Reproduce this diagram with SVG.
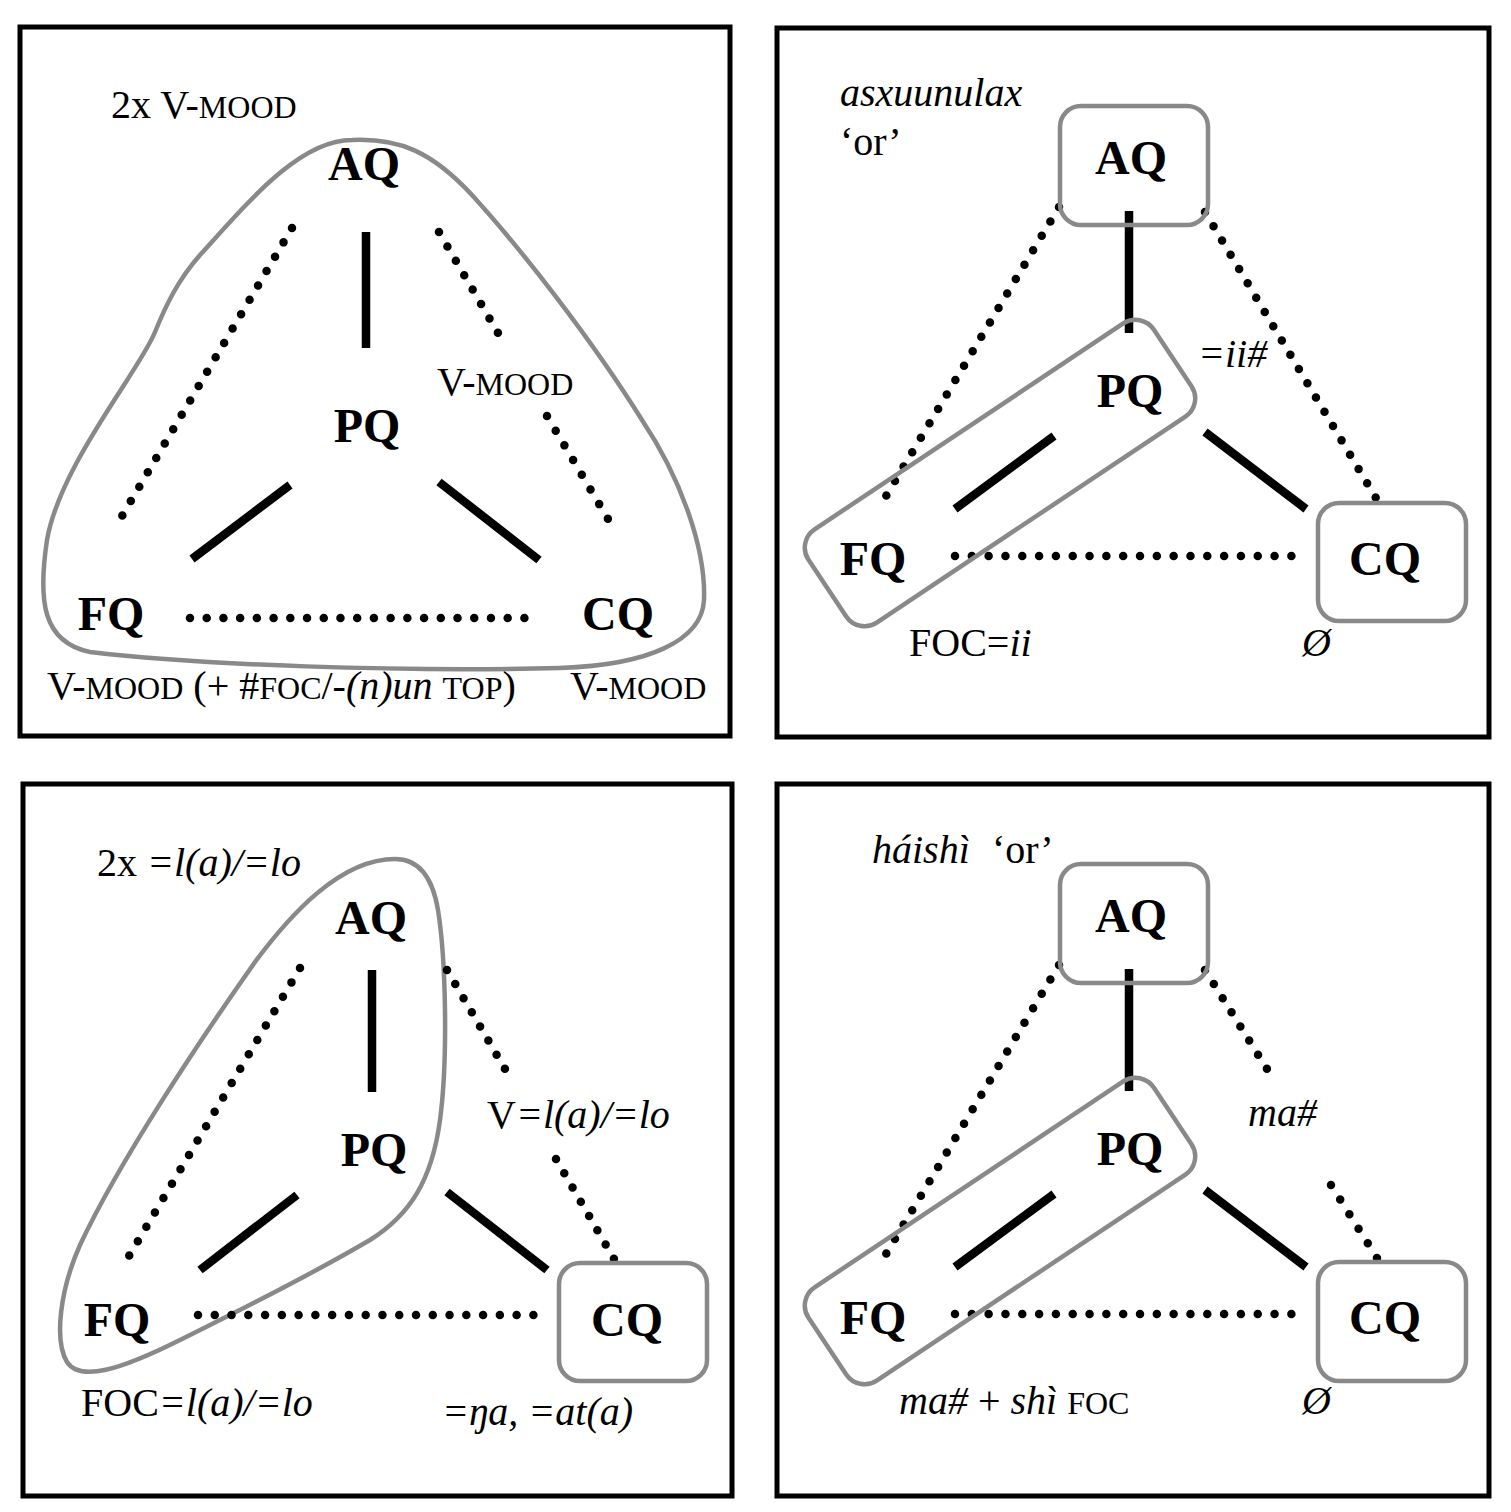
<svg xmlns="http://www.w3.org/2000/svg" width="1511" height="1512" viewBox="0 0 1511 1512">
<style>
text{font-family:"Liberation Serif","Times New Roman",serif;font-size:40px;fill:#000}
.n{font-weight:bold;font-size:48px;text-anchor:middle}
.i{font-style:italic}
.sc{font-size:32px}
.frame{fill:none;stroke:#000;stroke-width:5}
.g{fill:none;stroke:#898989;stroke-width:4.5}
.s{stroke:#000;stroke-width:8.5;fill:none}
.d{stroke:#000;stroke-width:8.5;stroke-linecap:round;stroke-dasharray:0 16.7;fill:none}
</style>
<rect width="1511" height="1512" fill="#fff"/>

<!-- Panel 1 -->
<g id="panel1">
<rect class="frame" x="20" y="27" width="710" height="709"/>
<path id="blob1" class="g" d="M352,140 C300,140 250,200 200,255 C178,280 166,305 155,332 C140,370 60,465 47,540 C38,600 42,642 90,652 C200,665 400,672 560,668 C650,665 702,640 704,600 C706,550 682,480 642,420 C592,340 522,250 472,195 C432,152 400,138 352,140 Z"/>
<g id="conn1">
<line class="s" x1="366" y1="232" x2="366" y2="348"/>
<line class="s" x1="290" y1="485" x2="192" y2="559"/>
<line class="s" x1="439" y1="482" x2="539" y2="560"/>
<line class="d" style="stroke-dasharray:0 16.69" x1="292" y1="228" x2="122" y2="516"/>
<line class="d" style="stroke-dasharray:0 16.68" x1="439" y1="232" x2="498" y2="333"/>
<line class="d" style="stroke-dasharray:0 17.07" x1="547" y1="416" x2="608" y2="519"/>
<line class="d" style="stroke-dasharray:0 16.72" x1="190" y1="618" x2="525" y2="618"/>
</g>
<g id="p1-AQ"><text class="n" x="364" y="180">AQ</text></g>
<g id="p1-PQ"><text class="n" x="367" y="442">PQ</text></g>
<g id="p1-FQ"><text class="n" x="111" y="630">FQ</text></g>
<g id="p1-CQ"><text class="n" x="618" y="630">CQ</text></g>
<text x="111" y="118">2x V-<tspan class="sc">MOOD</tspan></text>
<text x="437" y="395">V-<tspan class="sc">MOOD</tspan></text>
<text x="47" y="699">V-<tspan class="sc">MOOD</tspan> (+ #<tspan class="sc">FOC</tspan>/-<tspan class="i">(n)un</tspan> <tspan class="sc">TOP</tspan>)</text>
<text x="570" y="699">V-<tspan class="sc">MOOD</tspan></text>
</g>

<!-- Panel 2 -->
<g id="panel2">
<rect class="frame" x="777" y="28" width="712" height="709"/>
<g id="conn2">
<line class="s" x1="1129" y1="211" x2="1129" y2="333"/>
<line class="s" x1="955" y1="509" x2="1054" y2="436"/>
<line class="s" x1="1205" y1="432" x2="1306" y2="509"/>
<line class="d" style="stroke-dasharray:0 16.81" x1="1059" y1="207" x2="886" y2="496"/>
<line class="d" style="stroke-dasharray:0 16.63" x1="1205" y1="212" x2="1376" y2="498"/>
<line class="d" style="stroke-dasharray:0 16.82" x1="955" y1="556" x2="1292" y2="556"/>
</g>
<g id="p2-AQ"><rect class="g" x="1060" y="106" width="148" height="119" rx="21"/><text class="n" x="1131" y="174">AQ</text></g>
<g id="p2-FQPQ"><rect class="g" x="-207.5" y="-56" width="415" height="112" rx="22" transform="translate(1000,473) rotate(-33.7)"/></g>
<g id="p2-PQ"><text class="n" x="1130" y="407">PQ</text></g>
<g id="p2-FQ"><text class="n" x="873" y="575">FQ</text></g>
<g id="p2-CQ"><rect class="g" x="1318" y="503" width="148" height="118" rx="21"/><text class="n" x="1385" y="575">CQ</text></g>
<text class="i" x="840" y="106">asxuunulax</text>
<text x="840" y="155">‘or’</text>
<text class="i" x="1198" y="367">=ii#</text>
<text x="909" y="656">FOC=<tspan class="i">ii</tspan></text>
<text class="i" x="1302" y="656">Ø</text>
</g>

<!-- Panel 3 -->
<g id="panel3">
<rect class="frame" x="23" y="784" width="709" height="712"/>
<path id="blob3" class="g" d="M395,859 C420,859 433,880 438,910 C446,960 448,1060 440,1120 C432,1180 410,1215 370,1240 C310,1275 250,1305 180,1340 C120,1370 80,1382 67,1362 C54,1340 60,1290 80,1245 C120,1160 200,1040 255,962 C290,915 340,859 395,859 Z"/>
<g id="conn3">
<line class="s" x1="372" y1="970" x2="372" y2="1092"/>
<line class="s" x1="297" y1="1195" x2="200" y2="1270"/>
<line class="s" x1="447" y1="1192" x2="547" y2="1270"/>
<line class="d" style="stroke-dasharray:0 16.72" x1="300" y1="968" x2="129" y2="1256"/>
<line class="d" style="stroke-dasharray:0 16.36" x1="447" y1="970" x2="505" y2="1069"/>
<line class="d" style="stroke-dasharray:0 16.49" x1="556" y1="1159" x2="614" y2="1259"/>
<line class="d" style="stroke-dasharray:0 16.77" x1="198" y1="1315" x2="534" y2="1315"/>
</g>
<g id="p3-AQ"><text class="n" x="371" y="934">AQ</text></g>
<g id="p3-PQ"><text class="n" x="374" y="1166">PQ</text></g>
<g id="p3-FQ"><text class="n" x="117" y="1336">FQ</text></g>
<g id="p3-CQ"><rect class="g" x="559" y="1263" width="148" height="118" rx="21"/><text class="n" x="627" y="1336">CQ</text></g>
<text x="97" y="876">2x <tspan class="i">=l(a)/=lo</tspan></text>
<text x="487" y="1128">V<tspan class="i">=l(a)/=lo</tspan></text>
<text x="81" y="1416">FOC<tspan class="i">=l(a)/=lo</tspan></text>
<text class="i" x="442" y="1425">=ŋa, =at(a)</text>
</g>

<!-- Panel 4 -->
<g id="panel4">
<rect class="frame" x="777" y="784" width="712" height="712"/>
<g id="conn4">
<line class="s" x1="1129" y1="969" x2="1129" y2="1091"/>
<line class="s" x1="955" y1="1267" x2="1054" y2="1194"/>
<line class="s" x1="1205" y1="1190" x2="1306" y2="1267"/>
<line class="d" style="stroke-dasharray:0 16.81" x1="1059" y1="965" x2="886" y2="1254"/>
<line class="d" style="stroke-dasharray:0 16.66" x1="1205" y1="970" x2="1267" y2="1069"/>
<line class="d" style="stroke-dasharray:0 17.24" x1="1331" y1="1185" x2="1377" y2="1258"/>
<line class="d" style="stroke-dasharray:0 16.82" x1="955" y1="1314" x2="1292" y2="1314"/>
</g>
<g id="p4-AQ"><rect class="g" x="1060" y="864" width="148" height="119" rx="21"/><text class="n" x="1131" y="932">AQ</text></g>
<g id="p4-FQPQ"><rect class="g" x="-207.5" y="-56" width="415" height="112" rx="22" transform="translate(1000,1231) rotate(-33.7)"/></g>
<g id="p4-PQ"><text class="n" x="1130" y="1165">PQ</text></g>
<g id="p4-FQ"><text class="n" x="873" y="1334">FQ</text></g>
<g id="p4-CQ"><rect class="g" x="1318" y="1262" width="148" height="119" rx="21"/><text class="n" x="1385" y="1334">CQ</text></g>
<text x="872" y="863"><tspan class="i">háishì</tspan><tspan x="992">‘or’</tspan></text>
<text class="i" x="1248" y="1126">ma#</text>
<text x="899" y="1414"><tspan class="i">ma#</tspan> + <tspan class="i">shì</tspan> <tspan class="sc">FOC</tspan></text>
<text class="i" x="1302" y="1414">Ø</text>
</g>
</svg>
